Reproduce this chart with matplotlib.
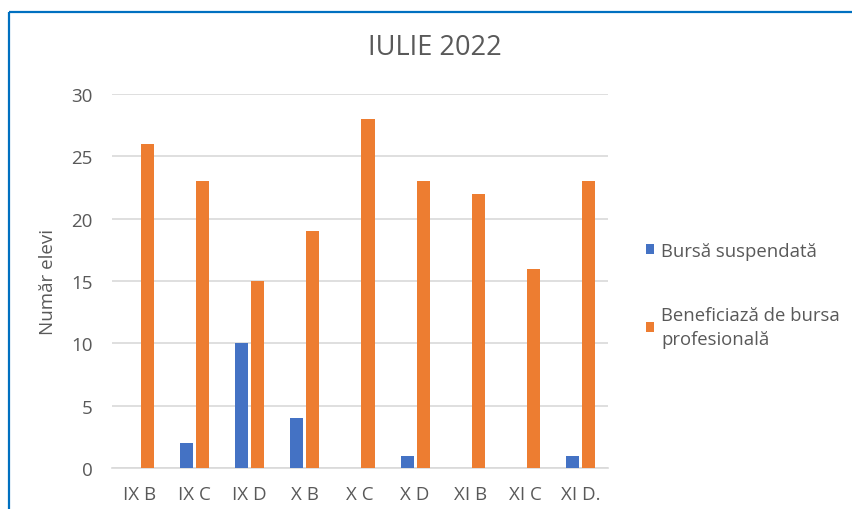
import matplotlib
matplotlib.use("Agg")
import matplotlib.pyplot as plt
import numpy as np
from matplotlib.lines import Line2D

categories = ["IX B", "IX C", "IX D", "X B", "X C", "X D", "XI B", "XI C", "XI D."]
bursa_suspendata = [0, 2, 10, 4, 0, 1, 0, 0, 1]
beneficiaza = [26, 23, 15, 19, 28, 23, 22, 16, 23]
series_labels = ["Bursă suspendată", "Beneficiază de bursa\nprofesională"]
yticks = [0, 5, 10, 15, 20, 25, 30]

plt.rcParams['font.family'] = ['Open Sans', 'DejaVu Sans']
txt = "#595959"

fig = plt.figure(figsize=(8.53, 5.10), dpi=100)
ax = fig.add_axes([0.1313, 0.0804, 0.5815, 0.7333])

x = np.arange(len(categories))
w = 0.236
off = 0.145
ax.bar(x - off, bursa_suspendata, w, color="#4472C4", label=series_labels[0], zorder=3)
ax.bar(x + off, beneficiaza, w, color="#ED7D31", label=series_labels[1], zorder=3)

ax.set_xlim(-0.5, len(categories) - 0.5)
ax.set_ylim(0, 30)
ax.set_yticks(yticks)
ax.set_xticks(x)
ax.set_xticklabels(categories)
ax.tick_params(axis="both", length=0, colors=txt, labelsize=13.5)
ax.tick_params(axis="y", pad=14)
ax.tick_params(axis="x", pad=12)
ax.yaxis.grid(True, color="#D9D9D9", linewidth=1.2, zorder=0)
for s in ["top", "right", "left"]:
    ax.spines[s].set_visible(False)
ax.spines["bottom"].set_color("#D9D9D9")
ax.spines["bottom"].set_linewidth(1.2)

ax.set_ylabel("Număr elevi", color=txt, fontsize=13.5, labelpad=10)
fig.text(0.51, 0.905, "IULIE 2022", ha="center", va="center", color=txt, fontsize=19.5)

leg = ax.legend(loc="upper left", bbox_to_anchor=(1.062, 0.625), frameon=False,
                fontsize=13.3, labelcolor=txt, handlelength=0.45, handleheight=0.45,
                handletextpad=0.35, labelspacing=2.5, borderaxespad=0)
for t in leg.get_texts():
    t.set_linespacing(1.45)

# blue frame
fig.add_artist(Line2D([8.5 / 853, 1], [1 - 12.5 / 510, 1 - 12.5 / 510],
                      transform=fig.transFigure, color="#0070C0", linewidth=1.6,
                      solid_capstyle="butt"))
fig.add_artist(Line2D([8.5 / 853, 8.5 / 853], [0, 1 - 12.5 / 510],
                      transform=fig.transFigure, color="#0070C0", linewidth=1.6,
                      solid_capstyle="butt"))

fig.savefig("out.png", dpi=100)
